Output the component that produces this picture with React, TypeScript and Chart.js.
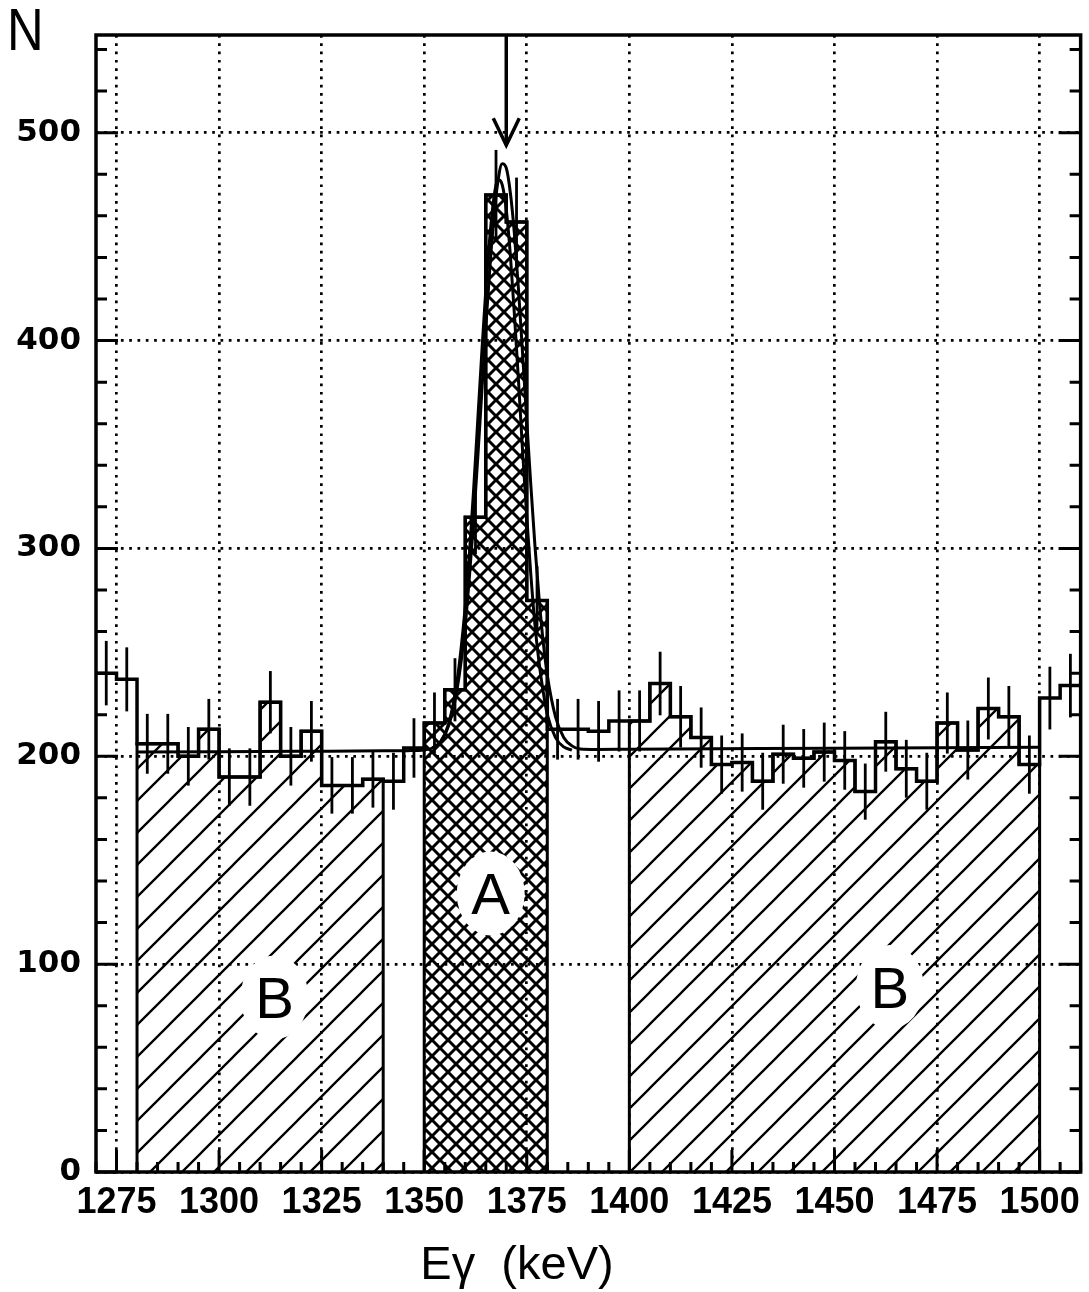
import React, { useEffect, useRef } from 'react';
import { Chart, registerables } from 'chart.js';

Chart.register(...registerables);

// ---- data ----
const binEdges = [
  1270, 1275, 1280, 1285, 1290, 1295, 1300, 1305, 1310, 1315, 1320, 1325, 1330, 1335, 1340, 1345,
  1350, 1355, 1360, 1365, 1370, 1375, 1380, 1385, 1390, 1395, 1400, 1405, 1410, 1415, 1420, 1425,
  1430, 1435, 1440, 1445, 1450, 1455, 1460, 1465, 1470, 1475, 1480, 1485, 1490, 1495, 1500, 1505, 1510,
];
const counts = [
  240, 237, 206, 206, 200, 213, 190, 190, 226, 200, 212, 186, 186, 189, 188, 204,
  216, 232, 315, 470, 457, 275, 213, 213, 212, 217, 217, 235, 219, 209, 196, 197,
  188, 201, 199, 202, 198, 183, 207, 194, 188, 216, 203, 223, 219, 196, 228, 234,
];
const countErrors = [
  15.5, 15.4, 14.4, 14.4, 14.1, 14.6, 13.8, 13.8, 15.0, 14.1, 14.6, 13.6, 13.6, 13.7, 13.7, 14.3,
  14.7, 15.2, 17.7, 21.7, 21.4, 16.6, 14.6, 14.6, 14.6, 14.7, 14.7, 15.3, 14.8, 14.5, 14.0, 14.0,
  13.7, 14.2, 14.1, 14.2, 14.1, 13.5, 14.4, 13.9, 13.7, 14.7, 14.2, 14.9, 14.8, 14.0, 15.1, 15.3,
];
const fitEnergy = [
  1280, 1300, 1320, 1340, 1346, 1350, 1352, 1354, 1356, 1358, 1360, 1361, 1362, 1363, 1364, 1365,
  1366, 1367, 1368, 1369, 1370, 1371, 1372, 1373, 1374, 1375, 1376, 1377, 1378, 1379, 1380, 1382,
  1384, 1386, 1388, 1392, 1400, 1450, 1500,
];
const fitCounts = [
  202.0, 202.2, 202.4, 202.6, 202.7, 203.0, 204, 207, 215, 232, 263, 286, 312, 342, 374, 406,
  435, 460, 477, 485, 483, 471, 451, 424, 393, 361, 330, 301, 276, 255, 239, 219,
  209, 205, 203.5, 203.3, 203.4, 203.9, 204.4,
];
const fit2Energy = [
  1352, 1354, 1356, 1358, 1360, 1361, 1362, 1363, 1364, 1365, 1366, 1367, 1368, 1369, 1370, 1371,
  1372, 1373, 1374, 1375, 1376, 1377, 1378, 1379, 1380, 1382, 1384, 1386,
];
const fit2Counts = [
  204, 207, 216, 236, 272, 297, 327, 360, 393, 424, 450, 469, 477.5, 475, 463, 441,
  412, 380, 346, 315, 287, 263, 245, 231, 220, 209, 204.5, 203,
];
const xTickValues = [1275, 1300, 1325, 1350, 1375, 1400, 1425, 1450, 1475, 1500];
const yTickValues = [0, 100, 200, 300, 400, 500];
const regionB1 = [1280, 1340];
const regionA = [1350, 1380];
const regionB2 = [1400, 1500];
const peakEnergy = 1370;
const peakArrowTip = 494;
const regionLabels = [
  { text: 'A', x: 1366.2, y: 134 },
  { text: 'B', x: 1313.5, y: 84 },
  { text: 'B', x: 1463.5, y: 89 },
];

const X_MIN = 1270;
const X_MAX = 1510;
const Y_MAX = 547;

function histPoints() {
  return binEdges.map((e, i) => ({ x: e, y: counts[Math.min(i, counts.length - 1)] }));
}

function regionPoints(r: number[]) {
  const pts: { x: number; y: number }[] = [{ x: r[0], y: 0 }];
  let last = 0;
  for (let i = 0; i < counts.length; i++) {
    if (binEdges[i] >= r[0] && binEdges[i] < r[1]) {
      pts.push({ x: binEdges[i], y: counts[i] });
      last = counts[i];
    }
  }
  pts.push({ x: r[1], y: last });
  pts.push({ x: r[1], y: 0 });
  return pts;
}

function makePattern(size: number, lw: number, cross: boolean, dx: number) {
  const c = document.createElement('canvas');
  c.width = size;
  c.height = size;
  const g = c.getContext('2d')!;
  g.strokeStyle = '#000';
  g.lineWidth = lw;
  g.beginPath();
  for (let k = 0; k <= 2; k++) {
    g.moveTo(-size, k * size + size);
    g.lineTo(k * size + size, -size);
  }
  if (cross) {
    for (let k = -1; k <= 1; k++) {
      g.moveTo(-size, -size - k * size);
      g.lineTo(2 * size, 2 * size - k * size);
    }
  }
  g.stroke();
  const p = g.createPattern(c, 'repeat')!;
  try {
    p.setTransform(new DOMMatrix([1, 0, 0, 1, dx, 0]));
  } catch (e) {
    /* ignore */
  }
  return p;
}

const overlayPlugin = {
  id: 'overlay',
  afterDatasetsDraw(chart: any) {
    const ctx: CanvasRenderingContext2D = chart.ctx;
    const xs = chart.scales.x;
    const ys = chart.scales.y;
    const area = chart.chartArea;
    ctx.save();
    ctx.strokeStyle = '#000';
    ctx.fillStyle = '#000';

    // error bars
    ctx.lineWidth = 2.8;
    counts.forEach((c, i) => {
      const px = xs.getPixelForValue((binEdges[i] + binEdges[i + 1]) / 2);
      ctx.beginPath();
      ctx.moveTo(px, ys.getPixelForValue(c - countErrors[i]));
      ctx.lineTo(px, ys.getPixelForValue(c + countErrors[i]));
      ctx.stroke();
    });

    // region labels with white backgrounds
    regionLabels.forEach((l) => {
      const px = xs.getPixelForValue(l.x);
      const py = ys.getPixelForValue(l.y);
      ctx.fillStyle = '#fff';
      ctx.beginPath();
      ctx.ellipse(px, py, 34, 42, 0, 0, Math.PI * 2);
      ctx.fill();
      ctx.fillStyle = '#000';
      ctx.font = "58px 'Liberation Sans', Arial, sans-serif";
      ctx.textAlign = 'center';
      ctx.textBaseline = 'alphabetic';
      ctx.fillText(l.text, px, py + 21);
    });

    // arrow marking the peak
    const ax = xs.getPixelForValue(peakEnergy);
    const tip = ys.getPixelForValue(peakArrowTip);
    ctx.lineWidth = 3.5;
    ctx.beginPath();
    ctx.moveTo(ax, area.top);
    ctx.lineTo(ax, tip);
    ctx.stroke();
    ctx.beginPath();
    ctx.moveTo(ax - 13, tip - 27);
    ctx.lineTo(ax, tip);
    ctx.lineTo(ax + 13, tip - 27);
    ctx.stroke();

    // inward tick marks
    ctx.lineWidth = 3;
    ctx.beginPath();
    for (let e = X_MIN; e <= X_MAX; e += 5) {
      const px = xs.getPixelForValue(e);
      const len = e % 25 === 0 ? 22 : 10;
      ctx.moveTo(px, area.bottom);
      ctx.lineTo(px, area.bottom - len);
    }
    for (let v = 0; v <= 540; v += 20) {
      const py = ys.getPixelForValue(v);
      const len = v % 100 === 0 ? 22 : 11;
      ctx.moveTo(area.left, py);
      ctx.lineTo(area.left + len, py);
      ctx.moveTo(area.right, py);
      ctx.lineTo(area.right - len, py);
    }
    ctx.stroke();

    // frame
    ctx.lineWidth = 3.5;
    ctx.strokeRect(area.left, area.top, area.right - area.left, area.bottom - area.top);

    // axis titles
    ctx.fillStyle = '#000';
    ctx.textAlign = 'left';
    ctx.textBaseline = 'alphabetic';
    ctx.save();
    ctx.translate(7, 50);
    ctx.scale(0.86, 1);
    ctx.font = "59px 'Liberation Sans', Arial, sans-serif";
    ctx.fillText('N', 0, 0);
    ctx.restore();

    ctx.font = "47px 'Liberation Sans', Arial, sans-serif";
    ctx.textAlign = 'center';
    ctx.fillText('E\u03b3  (keV)', 517, 1279);
    ctx.restore();
  },
};

export default function App() {
  const ref = useRef<HTMLCanvasElement>(null);
  useEffect(() => {
    const canvas = ref.current!;
    const hatch = makePattern(32, 2.3, false, 10);
    const crossHatch = makePattern(16, 3, true, 0);
    const lineBase = { pointRadius: 0, borderColor: '#000', fill: false };
    const chart = new Chart(canvas, {
      type: 'line',
      data: {
        datasets: [
          { ...lineBase, label: 'histogram', data: histPoints(), stepped: true, borderWidth: 3.5 },
          {
            ...lineBase,
            label: 'fit',
            data: fitEnergy.map((e, i) => ({ x: e, y: fitCounts[i] })),
            borderWidth: 3,
            cubicInterpolationMode: 'monotone',
          },
          {
            ...lineBase,
            label: 'fit 2',
            data: fit2Energy.map((e, i) => ({ x: e, y: fit2Counts[i] })),
            borderWidth: 3,
            cubicInterpolationMode: 'monotone',
          },
          {
            ...lineBase,
            label: 'B',
            data: regionPoints(regionB1),
            stepped: true,
            borderWidth: 3,
            fill: 'origin',
            backgroundColor: hatch,
          },
          {
            ...lineBase,
            label: 'A',
            data: regionPoints(regionA),
            stepped: true,
            borderWidth: 3,
            fill: 'origin',
            backgroundColor: crossHatch,
          },
          {
            ...lineBase,
            label: 'B ',
            data: regionPoints(regionB2),
            stepped: true,
            borderWidth: 3,
            fill: 'origin',
            backgroundColor: hatch,
          },
        ] as any,
      },
      options: {
        animation: false,
        responsive: false,
        devicePixelRatio: 1,
        layout: { padding: { top: 35, right: 8, left: 0, bottom: 0 } },
        plugins: { legend: { display: false }, tooltip: { enabled: false } },
        scales: {
          x: {
            type: 'linear',
            min: X_MIN,
            max: X_MAX,
            bounds: 'data',
            afterBuildTicks: (s: any) => {
              s.ticks = xTickValues.map((v) => ({ value: v }));
            },
            afterFit: (s: any) => {
              s.height = 120;
            },
            grid: { color: '#000', lineWidth: 2.7, drawTicks: false },
            border: { display: false, dash: [2.7, 5.6] },
            ticks: {
              callback: (v: any) => String(v),
              color: '#000',
              padding: 9,
              autoSkip: false,
              maxRotation: 0,
              minRotation: 0,
              font: { family: "'Liberation Sans', Arial, sans-serif", size: 36, weight: 'bold' },
            },
          },
          y: {
            type: 'linear',
            min: 0,
            max: Y_MAX,
            bounds: 'data',
            afterBuildTicks: (s: any) => {
              s.ticks = yTickValues.map((v) => ({ value: v }));
            },
            afterFit: (s: any) => {
              s.width = 96;
            },
            grid: { color: '#000', lineWidth: 2.7, drawTicks: false },
            border: { display: false, dash: [2.7, 5.6] },
            ticks: {
              callback: (v: any) => String(v),
              color: '#000',
              padding: 15,
              font: { family: "'DejaVu Sans', sans-serif", size: 31, weight: 'bold' },
            },
          },
        },
      } as any,
      plugins: [overlayPlugin],
    });
    return () => chart.destroy();
  }, []);
  return (
    <div style={{ position: 'absolute', left: 0, top: 0, width: 1089, height: 1292, background: '#fff' }}>
      <canvas ref={ref} width={1089} height={1292} style={{ width: 1089, height: 1292, display: 'block' }} />
    </div>
  );
}
